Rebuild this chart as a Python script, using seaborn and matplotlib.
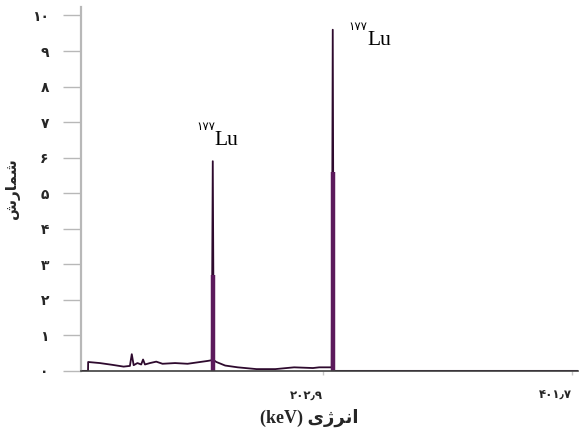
import matplotlib
matplotlib.use("Agg")
import matplotlib.pyplot as plt
import seaborn as sns
import pandas as pd

# spectrum data (energy keV, counts)
energy = [9.8, 15.6, 15.7, 25, 35, 44, 49, 50.5, 52, 55, 58, 59.5, 61, 65, 70, 75, 85, 95, 105, 111,
          114.3, 115.1, 115.9, 118, 125, 135, 150, 165, 180, 195, 200, 205, 210.0, 210.8, 211.6, 213, 406.5]
counts = [0.0, 0.0, 0.25, 0.22, 0.17, 0.12, 0.14, 0.47, 0.16, 0.22, 0.18, 0.32, 0.18, 0.22, 0.26, 0.2, 0.22, 0.2, 0.25, 0.28,
          0.3, 5.9, 0.3, 0.25, 0.15, 0.1, 0.05, 0.05, 0.1, 0.08, 0.1, 0.1, 0.1, 9.6, 0.0, 0.0, 0.0]
peak_energy = [115.1, 210.8]
peak_core = [2.7, 5.6]
y_ticks = [0, 1, 2, 3, 4, 5, 6, 7, 8, 9, 10]
y_ticklabels = ["۰", "۱", "۲", "۳", "۴", "۵", "۶", "۷", "۸", "۹", "۱۰"]
x_ticks = [202.9, 401.7]
x_ticklabels = ["۲۰۲٫۹", "۴۰۱٫۷"]
ylabel = "شمارش"
xlabel = "انرژی (keV)"
iso_sup = "۱۷۷"
iso_name = "Lu"

# minimal Persian shaping (presentation forms) + RTL ordering for display
FORMS = {  # isolated, final, initial, medial
    "ا": ("\uFE8D", "\uFE8E", None, None),
    "ر": ("\uFEAD", "\uFEAE", None, None),
    "ژ": ("\uFB8A", "\uFB8B", None, None),
    "ن": ("\uFEE5", "\uFEE6", "\uFEE7", "\uFEE8"),
    "ی": ("\uFBFC", "\uFBFD", "\uFBFE", "\uFBFF"),
    "ش": ("\uFEB5", "\uFEB6", "\uFEB7", "\uFEB8"),
    "م": ("\uFEE1", "\uFEE2", "\uFEE3", "\uFEE4"),
}


def shape_word(word):
    out = []
    n = len(word)
    for i, ch in enumerate(word):
        if ch not in FORMS:
            out.append(ch)
            continue
        f = FORMS[ch]
        prev_j = i > 0 and word[i - 1] in FORMS and FORMS[word[i - 1]][2] is not None
        next_j = i < n - 1 and word[i + 1] in FORMS and f[2] is not None
        if prev_j and next_j:
            out.append(f[3])
        elif prev_j:
            out.append(f[1])
        elif next_j:
            out.append(f[2])
        else:
            out.append(f[0])
    return "".join(reversed(out))


def rtl(text):
    toks = text.split(" ")
    toks = [shape_word(t) if any(c in FORMS for c in t) else t for t in toks]
    return " ".join(reversed(toks))


sns.set_theme(style="white")
plt.rcParams['font.family'] = ['Liberation Serif', 'DejaVu Sans']

fig = plt.figure(figsize=(5.81, 4.41), dpi=100)
ax = fig.add_axes([0.139, 0.159, 0.856, 0.826])

df = pd.DataFrame({"energy": energy, "counts": counts})
sns.lineplot(data=df, x="energy", y="counts", ax=ax, color="#2e0a2e", linewidth=1.3,
             sort=False, estimator=None)
ax.vlines(peak_energy, 0, peak_core, color="#5c1a5c", linewidth=3.2)

ax.set_xlim(9.8, 406.5)
ax.set_ylim(0, 10.25)
ax.set_yticks(y_ticks)
ax.set_yticklabels(y_ticklabels, family=['DejaVu Sans'], fontweight='bold', fontsize=10)
ax.set_xticks(x_ticks)
ax.set_xticklabels(x_ticklabels, family=['DejaVu Sans'], fontweight='bold', fontsize=8.5, ha='right')
ax.tick_params(axis='y', length=13, width=1, color='#b8b8b8', pad=10, left=True)
ax.tick_params(axis='x', length=3, width=1, color='#c8c8c8', pad=10, bottom=True)

for s in ['top', 'right']:
    ax.spines[s].set_visible(False)
ax.spines['left'].set_color('#b8b8b8')
ax.spines['left'].set_linewidth(1.6)
ax.spines['bottom'].set_color('#404040')
ax.spines['bottom'].set_linewidth(1.2)

ax.set_ylabel(rtl(ylabel), family=['DejaVu Sans'], fontweight='bold', fontsize=11)
ax.yaxis.set_label_coords(-0.122, 0.5)
ax.set_xlabel(rtl(xlabel), family=['Liberation Serif', 'DejaVu Sans'], fontweight='bold', fontsize=13)
ax.xaxis.set_label_coords(0.46, -0.103)

label_pos = [(116.7, 6.36), (238.7, 9.18)]
for (xe, ye) in label_pos:
    ax.text(xe, ye, iso_name, family=['Liberation Serif'], fontsize=15.5, ha='left', va='baseline', color='black')
    ax.text(xe, ye + 0.42, iso_sup, family=['DejaVu Sans'], fontsize=8.5, ha='right', va='baseline', color='black')

fig.savefig("out.png", dpi=100)
